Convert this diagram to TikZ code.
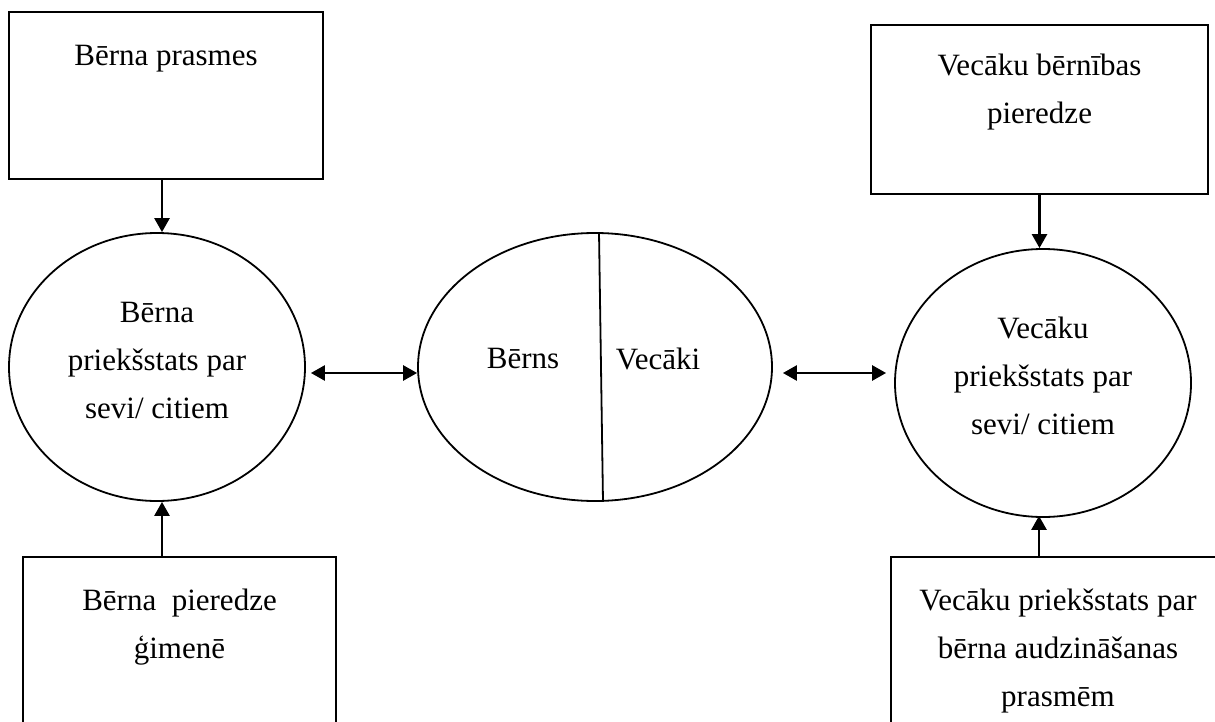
\documentclass[tikz,border=0pt]{standalone}
\usepackage{fontspec}
\setmainfont{Liberation Serif}
\usetikzlibrary{arrows.meta,shapes.geometric,calc}
\tikzset{
  kaste/.style={draw, line width=2.2pt, inner sep=0pt},
  aplis/.style={draw, ellipse, line width=1.8pt, inner sep=0pt},
  teksts/.style={align=center, font=\fontsize{31}{48}\selectfont},
  bulta/.style={line width=2.6pt, -{Triangle[length=14pt,width=15pt]}},
  abbulta/.style={line width=2.6pt, {Triangle[length=14pt,width=15pt]}-{Triangle[length=14pt,width=15pt]}},
}

\begin{document}
\begin{tikzpicture}[x=1pt,y=-1pt]
        \useasboundingbox (0,0) rectangle (1215,722);

        % boxes
        \node[kaste, minimum width=314pt, minimum height=167pt] (prasmes) at (166,95.5) {};
        \node[kaste, minimum width=313pt, minimum height=180pt] (gimene) at (179.5,647) {};
        \node[kaste, minimum width=337pt, minimum height=169pt] (berniba) at (1039.5,109.5) {};
        \node[kaste, minimum width=334pt, minimum height=180pt] (audzin) at (1058,647) {};

        \node[teksts] (prasmes-t) at ($(prasmes.north)+(0,48)$) {Bērna prasmes};
        \node[teksts] (gimene-t) at ($(gimene.north)+(0,71)$) {Bērna\ \ pieredze\\ģimenē};
        \node[teksts] (berniba-t) at ($(berniba.north)+(0,68)$) {Vecāku bērnības\\pieredze};
        \node[teksts] (audzin-t) at ($(audzin.north)+(0,95)$) {Vecāku priekšstats par\\bērna audzināšanas\\prasmēm};

        % ellipses
        \node[aplis, minimum width=296pt, minimum height=268pt] (berns) at (157,367) {};
        \node[aplis, minimum width=354pt, minimum height=268pt] (mid) at (595,367) {};
        \node[aplis, minimum width=296pt, minimum height=268pt] (vecaki) at (1043,383) {};

        \node[teksts] (berns-t) at ($(berns)+(0,-7)$) {Bērna\\priekšstats par\\sevi/ citiem};
        \node[teksts] (vecaki-t) at ($(vecaki)+(0,-7)$) {Vecāku\\priekšstats par\\sevi/ citiem};

        \draw[line width=1.8pt] ($(mid.north)+(4,0)$) -- ($(mid.south)+(8,0)$);
        \node[teksts] (mid-b) at ($(mid)+(-72,-8)$) {Bērns};
        \node[teksts] (mid-v) at ($(mid)+(63,-8)$) {Vecāki};

        % arrows
        \draw[bulta] ($(prasmes.south)+(-4,0)$) coordinate (p1) -- (p1 |- berns.north);
        \draw[bulta] ($(gimene.north)+(-17.5,0)$) coordinate (g1) -- (g1 |- berns.south);
        \draw[bulta] (berniba.south) -- (berniba.south |- vecaki.north);
        \draw[bulta] ($(audzin.north)+(-19,0)$) coordinate (a1) -- ($(a1 |- vecaki.south)+(0,-2)$);

        \draw[abbulta] ($(berns.east)+(5,6)$) -- ($(mid.west)+(0,6)$);
        \draw[abbulta] ($(mid.east)+(10,6)$) -- ($(vecaki.west)+(-8,-10)$);

    \end{tikzpicture}
\end{document}
